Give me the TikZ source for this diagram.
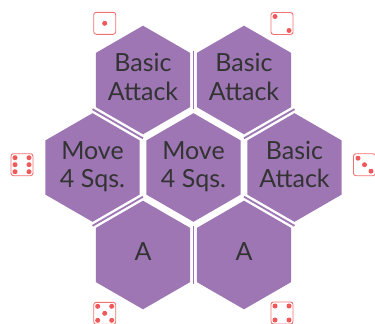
\documentclass[tikz,border=0pt]{standalone}
\usepackage{fontspec}
\setmainfont{Lato}
\usepackage{tikz}
\usetikzlibrary{shapes.geometric, calc}
\definecolor{hexfill}{HTML}{9D76B3}
\definecolor{hextext}{HTML}{333333}
\definecolor{dicered}{HTML}{F0585A}

\begin{document}
\begin{tikzpicture}[x=1pt, y=-1pt,
	hex/.style={regular polygon, regular polygon sides=6, shape border rotate=30, minimum size=108.6pt, inner sep=-20pt, text depth=6pt, fill=hexfill, text=hextext, align=center, font=\fontsize{25}{28.5}\selectfont},
	seam/.style={draw=hexfill, line width=1.8pt},
	die/.style={draw=dicered!85, line width=0.9pt, rounded corners=2.5pt, minimum size=22pt, inner sep=0pt},
	pip/.style={fill=dicered}]
	\useasboundingbox (0,0) rectangle (375,324);
	% board
	\node[hex] (tl) at (143,80) {Basic\\Attack};
	\node[hex] (tr) at (244,80) {Basic\\Attack};
	\node[hex] (ml) at (92.5,167.5) {Move\\4 Sqs.};
	\node[hex] (mid) at (193.5,167.5) {Move\\4 Sqs.};
	\node[hex] (mr) at (294.5,167.5) {Basic\\Attack};
	\node[hex] (bl) at (143,255) {A};
	\node[hex] (br) at (244,255) {A};
	\foreach \a/\b in {tl/tr, tr/mr, mr/br, br/bl, bl/ml, ml/tl}
	  \draw[seam] ($(\a)!0.5!(\b)!29.2pt!90:(\b)$) -- ($(\a)!0.5!(\b)!29.2pt!270:(\b)$);
	% dice
	\node[die] (one) at (104.7,23.3) {};
	\fill[pip] (one) circle (2.5pt);
	\node[die] (two) at (282,23.5) {};
	\foreach \x/\y in {-7/-7, 7/7}
	  \fill[pip] ($(two)+(\x,\y)$) circle (2.5pt);
	\node[die] (six) at (22,164.7) {};
	\foreach \x/\y in {-7/-7, 7/-7, -7/0, 7/0, -7/7, 7/7}
	  \fill[pip] ($(six)+(\x,\y)$) circle (2.5pt);
	\node[die] (three) at (364.5,164.7) {};
	\foreach \x/\y in {-6.5/-6.5, 0/0, 6.5/6.5}
	  \fill[pip] ($(three)+(\x,\y)$) circle (2.5pt);
	\node[die] (five) at (104.7,313.3) {};
	\foreach \x/\y in {-7/-7, 7/-7, 0/0, -7/7, 7/7}
	  \fill[pip] ($(five)+(\x,\y)$) circle (2.5pt);
	\node[die] (four) at (282,313) {};
	\foreach \x/\y in {-7/-7, 7/-7, -7/7, 7/7}
	  \fill[pip] ($(four)+(\x,\y)$) circle (2.5pt);
\end{tikzpicture}
\end{document}
